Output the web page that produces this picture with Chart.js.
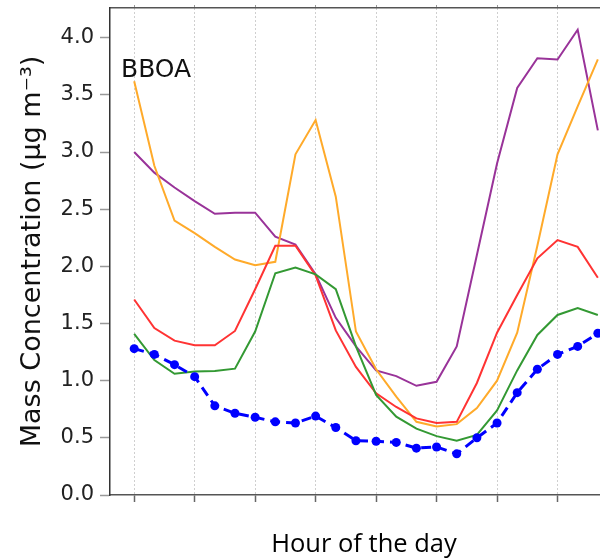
<!DOCTYPE html>
<html>
<head>
<meta charset="utf-8">
<script src="https://cdn.jsdelivr.net/npm/chart.js@4.4.1/dist/chart.umd.min.js"></script>
<style>
  html, body { margin: 0; padding: 0; background: #fff; overflow: hidden; }
  #wrap { position: relative; width: 640px; height: 560px; }
</style>
</head>
<body>
<div id="wrap"><canvas id="c"></canvas></div>
<script>
// Hour of the day (x values)
const hours = [0,1,2,3,4,5,6,7,8,9,10,11,12,13,14,15,16,17,18,19,20,21,22,23];

// Series values (μg m-3)
const blueSeries   = [1.28,1.23,1.14,1.035,0.78,0.715,0.68,0.64,0.63,0.69,0.59,0.475,0.47,0.46,0.41,0.42,0.36,0.50,0.63,0.895,1.10,1.23,1.30,1.415];
const greenSeries  = [1.41,1.18,1.06,1.08,1.085,1.105,1.43,1.94,1.99,1.93,1.80,1.30,0.875,0.685,0.58,0.515,0.475,0.525,0.74,1.09,1.40,1.575,1.635,1.575];
const redSeries    = [1.71,1.46,1.35,1.31,1.31,1.435,1.80,2.18,2.18,1.92,1.44,1.12,0.89,0.77,0.67,0.63,0.64,0.98,1.42,1.75,2.07,2.23,2.17,1.90];
const orangeSeries = [3.62,2.88,2.40,2.29,2.17,2.06,2.01,2.04,2.98,3.28,2.61,1.43,1.10,0.86,0.64,0.60,0.62,0.76,1.00,1.42,2.18,2.98,3.40,3.81];
const purpleSeries = [3.00,2.82,2.69,2.57,2.46,2.47,2.47,2.26,2.19,1.93,1.55,1.30,1.09,1.04,0.955,0.99,1.30,2.10,2.90,3.56,3.82,3.81,4.07,3.19];

// Axis settings / labels
const xStep = 3;
const yStep = 0.5;
const xTitle = 'Hour of the day';
const yTitle = 'Mass Concentration (μg m⁻³)';
const panelLabel = 'BBOA';

const SANS = '"DejaVu Sans", "Verdana", sans-serif';
const TITLE_SANS = '"Open Sans", "Lato", sans-serif';

const toPoints = arr => arr.map((v, i) => ({x: hours[i], y: v}));

const line = (data, color) => ({
  data: toPoints(data),
  borderColor: color,
  backgroundColor: color,
  borderWidth: 2,
  pointRadius: 0,
  tension: 0,
  fill: false
});

const labelPlugin = {
  id: 'panelLabel',
  afterDraw(chart) {
    const ctx = chart.ctx;
    const xs = chart.scales.x, ys = chart.scales.y;
    ctx.save();
    ctx.font = '25px ' + SANS;
    ctx.fillStyle = '#111';
    ctx.textBaseline = 'alphabetic';
    ctx.textAlign = 'left';
    ctx.fillText(panelLabel, xs.left + 11, ys.top + 69);
    ctx.restore();
  }
};

new Chart(document.getElementById('c'), {
  type: 'line',
  data: {
    datasets: [
      Object.assign(line(blueSeries, '#0000ff'), {
        borderWidth: 3, borderDash: [10, 6], pointRadius: 4.5,
        pointBorderWidth: 0, pointBackgroundColor: '#0000ff'
      }),
      line(greenSeries, '#339933'),
      line(redSeries, '#ff3333'),
      line(orangeSeries, '#ffaa2a'),
      line(purpleSeries, '#993399')
    ]
  },
  options: {
    responsive: true,
    maintainAspectRatio: false,
    animation: false,
    layout: { padding: { left: 0, right: 22, top: 0, bottom: 0 } },
    plugins: { legend: { display: false }, tooltip: { enabled: false } },
    scales: {
      x: {
        type: 'linear', position: 'bottom', min: -1.2, max: 24,
        ticks: { stepSize: xStep, display: false, includeBounds: false },
        grid: { color: '#cfcfcf', lineWidth: 1, drawTicks: true, tickLength: 7, tickColor: '#666', tickWidth: 1.5, tickBorderDash: [] },
        border: { display: true, color: '#555', width: 1.5, dash: [2, 2] },
        title: { display: true, text: xTitle, color: '#000', font: { family: TITLE_SANS, size: 25.5 }, padding: { top: 0, bottom: 0 } },
        afterFit: s => { s.height = 65; s.paddingLeft = 0; s.paddingRight = 0; }
      },
      x2: {
        type: 'linear', position: 'top', min: -1.2, max: 24,
        ticks: { stepSize: xStep, display: false, includeBounds: false },
        grid: { drawOnChartArea: false, drawTicks: true, tickLength: 3, tickColor: '#999' },
        border: { display: true, color: '#555', width: 1.5 },
        afterFit: s => { s.height = 8; s.paddingLeft = 0; s.paddingRight = 0; }
      },
      y: {
        type: 'linear', position: 'left', min: 0, max: 4.26,
        ticks: {
          stepSize: yStep, includeBounds: false, padding: 6, color: '#222',
          font: { family: SANS, size: 21 },
          callback: v => Number(v).toFixed(1)
        },
        grid: { drawOnChartArea: false, drawTicks: true, tickLength: 10, tickColor: '#999', tickWidth: 1.5 },
        border: { display: true, color: '#333', width: 1.5 },
        title: { display: true, text: yTitle, color: '#111', font: { family: SANS, size: 27 }, padding: { top: 17, bottom: 0 } },
        afterFit: s => { s.width = 110; s.paddingTop = 0; s.paddingBottom = 0; }
      }
    }
  },
  plugins: [labelPlugin]
});
</script>
</body>
</html>
